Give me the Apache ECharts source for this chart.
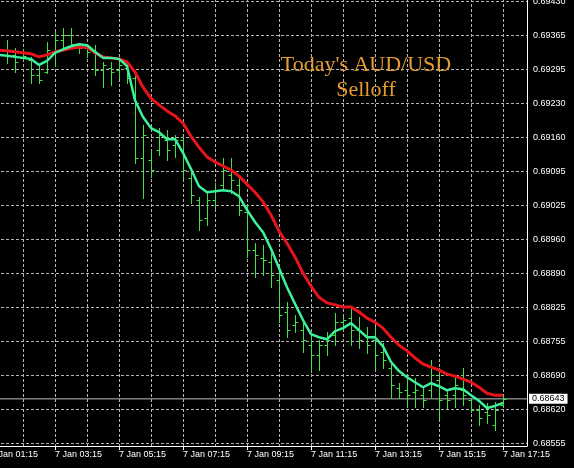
<!DOCTYPE html>
<html>
<head>
<meta charset="utf-8">
<script src="https://cdn.jsdelivr.net/npm/echarts@6/dist/echarts.min.js"></script>
<style>
html,body{margin:0;padding:0;background:#000;}
#chart{width:574px;height:468px;}
</style>
</head>
<body>
<div id="chart"></div>
<script>
// Axis categories (15-minute bars, 7 Jan)
const categories = ['01:15','01:30','01:45','02:00','02:15','02:30','02:45','03:00','03:15','03:30','03:45','04:00','04:15','04:30','04:45','05:00','05:15','05:30','05:45','06:00','06:15','06:30','06:45','07:00','07:15','07:30','07:45','08:00','08:15','08:30','08:45','09:00','09:15','09:30','09:45','10:00','10:15','10:30','10:45','11:00','11:15','11:30','11:45','12:00','12:15','12:30','12:45','13:00','13:15','13:30','13:45','14:00','14:15','14:30','14:45','15:00','15:15','15:30','15:45','16:00','16:15','16:30','16:45','17:00','17:15','17:30','17:45','18:00'];
// bars exist from 01:30 to 17:15
const barTimes = categories.slice(1, 65);

const opens  = [0.69337,0.69333,0.69324,0.69318,0.69314,0.69284,0.69290,0.69330,0.69353,0.69363,0.69343,0.69337,0.69333,0.69294,0.69298,0.69294,0.69298,0.69278,0.69120,0.69116,0.69136,0.69155,0.69145,0.69155,0.69080,0.69037,0.69001,0.69037,0.69066,0.69086,0.69066,0.69013,0.68938,0.68922,0.68914,0.68878,0.68815,0.68789,0.68779,0.68749,0.68730,0.68749,0.68769,0.68795,0.68803,0.68779,0.68769,0.68759,0.68736,0.68704,0.68664,0.68660,0.68656,0.68650,0.68660,0.68680,0.68650,0.68650,0.68660,0.68641,0.68621,0.68617,0.68591,0.68631];
const highs  = [0.69345,0.69353,0.69337,0.69333,0.69320,0.69304,0.69349,0.69369,0.69377,0.69377,0.69347,0.69345,0.69343,0.69310,0.69310,0.69310,0.69302,0.69288,0.69185,0.69136,0.69179,0.69175,0.69165,0.69161,0.69092,0.69042,0.69050,0.69070,0.69120,0.69120,0.69080,0.69027,0.68951,0.68947,0.68932,0.68894,0.68835,0.68809,0.68793,0.68773,0.68759,0.68775,0.68813,0.68805,0.68825,0.68805,0.68785,0.68785,0.68753,0.68714,0.68674,0.68680,0.68684,0.68666,0.68720,0.68704,0.68660,0.68686,0.68704,0.68644,0.68631,0.68635,0.68637,0.68650];
const lows   = [0.69330,0.69308,0.69290,0.69314,0.69268,0.69268,0.69288,0.69302,0.69339,0.69343,0.69328,0.69320,0.69284,0.69260,0.69264,0.69278,0.69268,0.69110,0.69040,0.69082,0.69126,0.69116,0.69122,0.69080,0.69031,0.68977,0.68987,0.69021,0.69056,0.69050,0.69007,0.68924,0.68884,0.68888,0.68864,0.68795,0.68765,0.68775,0.68736,0.68696,0.68700,0.68730,0.68749,0.68779,0.68749,0.68743,0.68734,0.68704,0.68704,0.68644,0.68644,0.68627,0.68627,0.68627,0.68646,0.68605,0.68625,0.68627,0.68631,0.68617,0.68591,0.68595,0.68581,0.68627];
const closes = [0.69333,0.69324,0.69310,0.69322,0.69284,0.69274,0.69333,0.69353,0.69363,0.69345,0.69337,0.69330,0.69294,0.69304,0.69290,0.69304,0.69278,0.69120,0.69165,0.69096,0.69165,0.69136,0.69155,0.69096,0.69046,0.68997,0.69037,0.69056,0.69096,0.69076,0.69017,0.68938,0.68928,0.68918,0.68888,0.68809,0.68779,0.68795,0.68759,0.68730,0.68749,0.68759,0.68795,0.68799,0.68779,0.68759,0.68749,0.68730,0.68720,0.68670,0.68656,0.68650,0.68660,0.68641,0.68690,0.68641,0.68641,0.68670,0.68650,0.68621,0.68605,0.68611,0.68621,0.68643];
// slow moving average (red)
const maSlow = [0.69333,0.69332,0.69330,0.69328,0.69326,0.69320,0.69324,0.69330,0.69333,0.69337,0.69339,0.69339,0.69328,0.69320,0.69318,0.69316,0.69310,0.69290,0.69260,0.69238,0.69225,0.69213,0.69203,0.69189,0.69163,0.69141,0.69122,0.69112,0.69104,0.69096,0.69084,0.69068,0.69052,0.69033,0.69007,0.68975,0.68951,0.68924,0.68892,0.68866,0.68844,0.68833,0.68829,0.68825,0.68825,0.68815,0.68803,0.68795,0.68783,0.68765,0.68749,0.68738,0.68724,0.68712,0.68706,0.68700,0.68692,0.68688,0.68682,0.68676,0.68666,0.68654,0.68650,0.68650];
// fast moving average (spring green)
const maFast = [0.69324,0.69322,0.69320,0.69318,0.69316,0.69304,0.69312,0.69328,0.69335,0.69341,0.69345,0.69343,0.69330,0.69318,0.69318,0.69316,0.69302,0.69234,0.69201,0.69179,0.69171,0.69157,0.69157,0.69130,0.69098,0.69064,0.69052,0.69054,0.69056,0.69054,0.69044,0.69017,0.68993,0.68973,0.68940,0.68902,0.68864,0.68831,0.68799,0.68771,0.68765,0.68761,0.68777,0.68783,0.68793,0.68779,0.68765,0.68765,0.68747,0.68716,0.68698,0.68686,0.68676,0.68666,0.68674,0.68668,0.68660,0.68664,0.68662,0.68650,0.68639,0.68625,0.68629,0.68635];

// price-axis grid positions and their printed labels
const gridValues = [0.68555,0.686223,0.686896,0.687569,0.688242,0.688915,0.689588,0.690262,0.690935,0.691608,0.692281,0.692954,0.693627,0.694300];
const gridLabels = ['0.68555','0.68620','0.68690','0.68755','0.68825','0.68890','0.68960','0.69025','0.69095','0.69160','0.69230','0.69295','0.69365','0.69430'];
const priceMin = 0.685497, priceMax = 0.6943455;
const lastPrice = closes[closes.length - 1];

const barColor = '#3fe03f';
const gridColor = '#b4b4b4';
const textColor = '#ffffff';
const font = 'Liberation Sans';

const chart = echarts.init(document.getElementById('chart'), null, {renderer: 'canvas'});
const barData = barTimes.map((t, i) => [t, opens[i], highs[i], lows[i], closes[i]]);

chart.setOption({
  backgroundColor: '#000000',
  animation: false,
  grid: {left: -9, right: 47, top: -1, bottom: 22, containLabel: false, outerBoundsMode: 'none'},
  xAxis: {
    type: 'category', data: categories, boundaryGap: false,
    axisLine: {show: true, lineStyle: {color: '#ffffff', width: 1}},
    axisTick: {show: true, length: 4, interval: (i) => i % 8 === 0, lineStyle: {color: '#ffffff'}},
    axisLabel: {interval: (i) => i % 8 === 0, formatter: (v) => '7 Jan ' + v, align: 'left', margin: 4,
                color: textColor, fontSize: 9, fontFamily: font, showMinLabel: true, hideOverlap: false},
    splitLine: {show: true, interval: (i) => i % 4 === 0, lineStyle: {color: gridColor, type: [3, 2], width: 1}}
  },
  yAxis: {
    type: 'value', position: 'right', min: priceMin, max: priceMax, scale: true,
    axisLine: {show: true, lineStyle: {color: '#ffffff', width: 1}},
    axisTick: {show: false, customValues: gridValues},
    axisLabel: {customValues: gridValues, margin: 6, color: textColor, fontSize: 9, fontFamily: font,
      formatter: (v) => { const i = gridValues.findIndex(g => Math.abs(g - v) < 1e-7); return i >= 0 ? gridLabels[i] : ''; }},
    splitLine: {show: true, lineStyle: {color: gridColor, type: [3, 2], width: 1}}
  },
  graphic: [{
    type: 'text', x: 366, y: 53, z: 10,
    style: {text: "Today's AUD/USD\nSelloff", align: 'center', verticalAlign: 'top',
            fill: '#e69b30', font: '22px "Liberation Serif"', lineHeight: 25}
  }],
  series: [
    {
      type: 'line', name: 'Last price', z: 1, silent: true,
      data: [[categories[0], lastPrice], [categories[categories.length - 1], lastPrice]],
      symbol: 'none', lineStyle: {color: '#bdbdbd', width: 1},
      endLabel: {show: true, distance: 2, formatter: () => lastPrice.toFixed(5),
                 backgroundColor: '#ffffff', color: '#000000', padding: [1, 3, 0, 3],
                 fontSize: 9, fontFamily: font}
    },
    {
      type: 'custom', name: 'AUDUSD', data: barData, z: 2,
      encode: {x: 0, y: [1, 2, 3, 4]},
      renderItem: function (params, api) {
        const xi = api.value(0);
        const pO = api.coord([xi, api.value(1)]);
        const pH = api.coord([xi, api.value(2)]);
        const pL = api.coord([xi, api.value(3)]);
        const pC = api.coord([xi, api.value(4)]);
        const cx = Math.round(pH[0]) + 0.5;
        const yo = Math.round(pO[1]) + 0.5, yc = Math.round(pC[1]) + 0.5;
        const st = {stroke: barColor, lineWidth: 1};
        return {type: 'group', children: [
          {type: 'line', shape: {x1: cx, y1: Math.round(pH[1]), x2: cx, y2: Math.round(pL[1]) + 1}, style: st},
          {type: 'line', shape: {x1: cx - 3, y1: yo, x2: cx, y2: yo}, style: st},
          {type: 'line', shape: {x1: cx, y1: yc, x2: cx + 3, y2: yc}, style: st}
        ]};
      }
    },
    {
      type: 'line', name: 'MA slow', data: barTimes.map((t, i) => [t, maSlow[i]]), z: 3,
      symbol: 'none', lineStyle: {color: '#e8141c', width: 3}, itemStyle: {color: '#e8141c'}
    },
    {
      type: 'line', name: 'MA fast', data: barTimes.map((t, i) => [t, maFast[i]]), z: 4,
      symbol: 'none', lineStyle: {color: '#3cf09c', width: 2.5}, itemStyle: {color: '#3cf09c'}
    }
  ]
});
</script>
</body>
</html>
